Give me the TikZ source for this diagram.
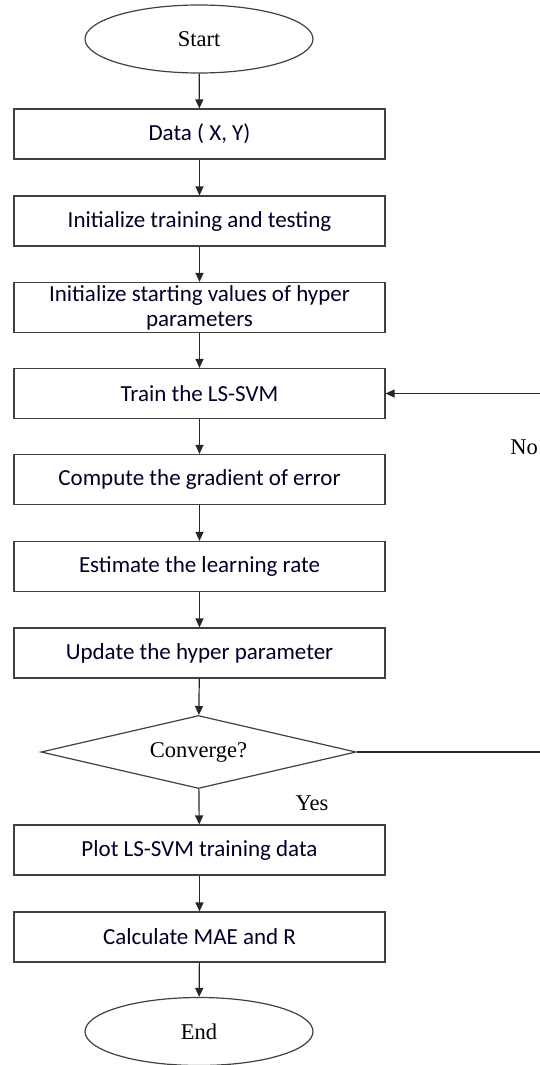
\documentclass[tikz,border=0pt]{standalone}
\usepackage{fontspec}
\setmainfont{Liberation Serif}
\newfontfamily\boxfont{Carlito}
\usetikzlibrary{shapes.geometric,arrows.meta}
\tikzset{
  x=1pt, y=-1pt,
  procbox/.style={draw=black!75, line width=1.2pt, rectangle, minimum width=371pt, minimum height=50pt, inner sep=0pt, align=center, font=\boxfont\fontsize{23}{25}\selectfont, text=black!85!blue},
  termnode/.style={draw=black!75, line width=1.2pt, ellipse, minimum width=228pt, minimum height=68pt, inner sep=0pt, font=\fontsize{22.5}{25}\selectfont},
  decnode/.style={draw=black!75, line width=1.2pt, diamond, aspect=4.315, minimum width=315pt, minimum height=73pt, inner sep=0pt, font=\fontsize{22.5}{25}\selectfont},
  lbl/.style={font=\fontsize{22.5}{25}\selectfont, inner sep=0pt},
  flow/.style={draw=black!85, line width=1.2pt, -{Triangle[width=8pt,length=9pt]}},
  plainline/.style={draw=black!75, line width=1.2pt}
}
\begin{document}
\begin{tikzpicture}
\useasboundingbox (0,0) rectangle (540,1065);
\node[termnode] (start) at (199,39) {Start};
\node[procbox] (data) at (199.5,134) {Data ( X, Y)};
\node[procbox] (inittt) at (199.5,221) {Initialize training and testing};
\node[procbox] (inithp) at (199.5,307.5) {Initialize starting values of hyper\\parameters};
\node[procbox] (train) at (199.5,393.5) {Train the LS-SVM};
\node[procbox] (grad) at (199.5,479.5) {Compute the gradient of error};
\node[procbox] (rate) at (199.5,566.5) {Estimate the learning rate};
\node[procbox] (upd) at (199.5,653) {Update the hyper parameter};
\node[decnode] (conv) at (198.5,752) {Converge?};
\node[procbox] (plot) at (199.5,850) {Plot LS-SVM training data};
\node[procbox] (calc) at (199.5,937) {Calculate MAE and R};
\node[termnode] (end) at (199,1031.5) {End};
\node[lbl] (yes) at (312,803) {Yes};
\node[lbl] (no) at (524,447) {No};
\coordinate (rb) at (543,752);
\coordinate (rt) at (543,393.5);

\draw[flow] (start) -- (data);
\draw[flow] (data) -- (inittt);
\draw[flow] (inittt) -- (inithp);
\draw[flow] (inithp) -- (train);
\draw[flow] (train) -- (grad);
\draw[flow] (grad) -- (rate);
\draw[flow] (rate) -- (upd);
\draw[flow] (upd) -- (conv);
\draw[flow] (conv) -- (plot);
\draw[flow] (plot) -- (calc);
\draw[flow] (calc) -- (end);
\draw[flow] (conv.east) -- (rb) -- (rt) -- (train.east);
\end{tikzpicture}
\end{document}
